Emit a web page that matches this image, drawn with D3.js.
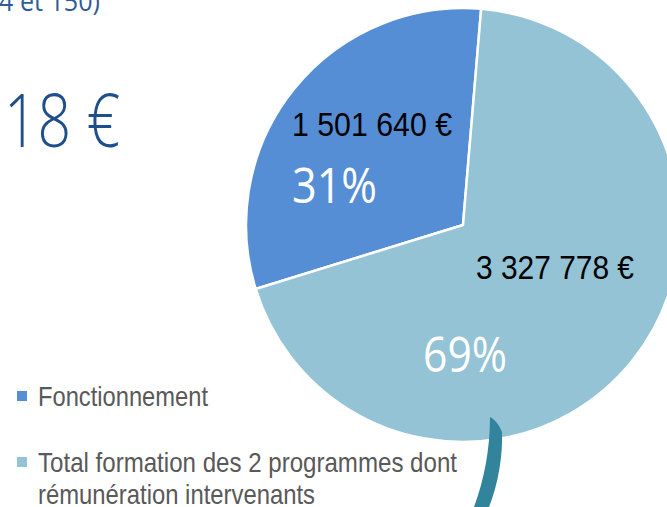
<!DOCTYPE html>
<html>
<head>
<meta charset="utf-8">
<script src="https://cdn.jsdelivr.net/npm/d3@7"></script>
<style>
  body { margin: 0; background: #fff; }
  svg { display: block; }
</style>
</head>
<body>
<div id="chart"></div>
<script>
// chart values
var categories = ['Fonctionnement', 'Total formation des 2 programmes dont rémunération intervenants'];
var amounts = [1501640, 3327778];
var amountLabels = ['1 501 640 €', '3 327 778 €'];
var percentLabels = ['31%', '69%'];
var legendLines = [['Fonctionnement'], ['Total formation des 2 programmes dont', 'rémunération intervenants']];

var width = 667, height = 507;
var colors = ['#558ed5', '#93c3d5'];
var narrow = '"Liberation Sans Narrow", "Arial Narrow", "Liberation Sans", Arial, sans-serif';

var svg = d3.select('#chart').append('svg')
  .attr('width', width)
  .attr('height', height);

svg.append('rect')
  .attr('width', width)
  .attr('height', height)
  .attr('fill', '#fff');

// slide text cut by the crop
svg.append('text')
  .attr('x', -1)
  .attr('y', 11)
  .attr('font-family', '"Open Sans", sans-serif')
  .attr('font-size', 27)
  .attr('fill', '#2f5b96')
  .attr('textLength', 101)
  .attr('lengthAdjust', 'spacingAndGlyphs')
  .text('4 et 150)');

svg.append('text')
  .attr('x', 4)
  .attr('y', 147)
  .attr('font-family', '"Open Sans", sans-serif')
  .attr('font-weight', 300)
  .attr('font-size', 73)
  .attr('fill', '#1f4e8c')
  .attr('textLength', 116)
  .attr('lengthAdjust', 'spacingAndGlyphs')
  .text('18 €');

// pie
var cx = 463, cy = 225, radius = 217;
var total = d3.sum(amounts);
var endBlue = 0.0838; // boundary near the top, in radians
var start = endBlue - amounts[0] / total * 2 * Math.PI;

var pie = d3.pie()
  .sort(null)
  .value(function(d) { return d; })
  .startAngle(start)
  .endAngle(start + 2 * Math.PI);

var arc = d3.arc()
  .innerRadius(0)
  .outerRadius(radius);

var g = svg.append('g')
  .attr('transform', 'translate(' + cx + ',' + cy + ')');

g.selectAll('path')
  .data(pie(amounts))
  .enter().append('path')
  .attr('d', arc)
  .attr('fill', function(d, i) { return colors[i]; })
  .attr('stroke', '#fff')
  .attr('stroke-width', 2.5)
  .attr('stroke-linejoin', 'round');

// labels, placed relative to the pie center like the hand-moved boxes
var amountPos = [{x: -171, y: -89, w: 160}, {x: 13, y: 54, w: 158}];
var pctPos = [{x: -171, y: -22, w: 85}, {x: -40, y: 147, w: 84}];

g.selectAll('text.amount')
  .data(amountLabels)
  .enter().append('text')
  .attr('class', 'amount')
  .attr('x', function(d, i) { return amountPos[i].x; })
  .attr('y', function(d, i) { return amountPos[i].y; })
  .attr('font-family', narrow)
  .attr('font-size', 33)
  .attr('fill', '#000')
  .attr('textLength', function(d, i) { return amountPos[i].w; })
  .attr('lengthAdjust', 'spacingAndGlyphs')
  .text(function(d) { return d; });

g.selectAll('text.pct')
  .data(percentLabels)
  .enter().append('text')
  .attr('class', 'pct')
  .attr('x', function(d, i) { return pctPos[i].x; })
  .attr('y', function(d, i) { return pctPos[i].y; })
  .attr('font-family', '"Open Sans", sans-serif')
  .attr('font-size', 49)
  .attr('fill', '#fff')
  .attr('textLength', function(d, i) { return pctPos[i].w; })
  .attr('lengthAdjust', 'spacingAndGlyphs')
  .text(function(d) { return d; });

// teal connector coming from below
svg.append('path')
  .attr('d', 'M490,417 C494,419 499,424 502,432 C503,455 498,485 489,507 L474,507 C484,480 490,450 490,417 Z')
  .attr('fill', '#31849b');

// legend
var legendY = [391, 457];
var legendW = [[170], [419, 277]];

var legend = svg.selectAll('g.legend')
  .data(categories)
  .enter().append('g')
  .attr('class', 'legend')
  .attr('transform', function(d, i) { return 'translate(17,' + legendY[i] + ')'; });

legend.append('rect')
  .attr('width', 10)
  .attr('height', 10)
  .attr('fill', function(d, i) { return colors[i]; });

legend.each(function(d, i) {
  var t = d3.select(this).append('text')
    .attr('font-family', narrow)
    .attr('font-size', 28)
    .attr('fill', '#595959');
  legendLines[i].forEach(function(line, j) {
    t.append('tspan')
      .attr('x', 21)
      .attr('y', 15 + j * 32)
      .attr('textLength', legendW[i][j])
      .attr('lengthAdjust', 'spacingAndGlyphs')
      .text(line);
  });
});
</script>
</body>
</html>
